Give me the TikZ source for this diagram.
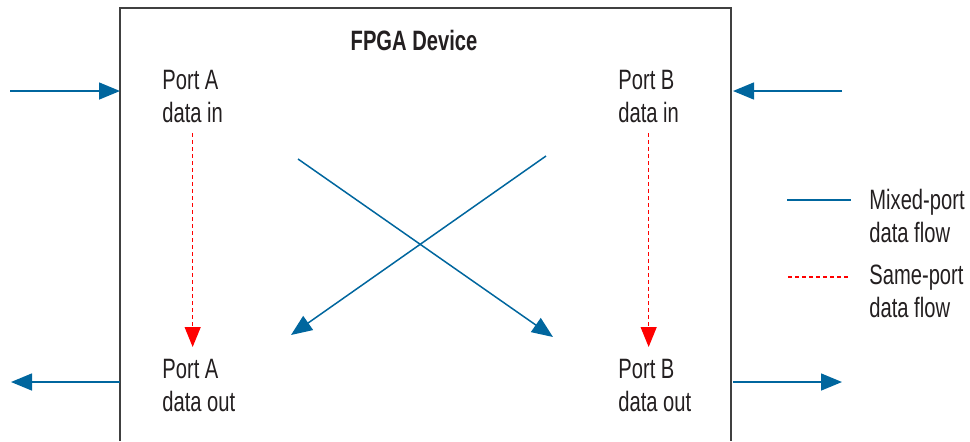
\documentclass[tikz,border=0pt]{standalone}
\usepackage{fontspec}
\setmainfont{Liberation Sans}[FakeStretch=0.72]
\usetikzlibrary{arrows.meta}
\definecolor{flowblue}{HTML}{00669E}
\definecolor{boxgray}{HTML}{404040}
\definecolor{inktext}{HTML}{231F20}

\begin{document}
\begin{tikzpicture}[x=0.5pt,y=-0.5pt]
                \tikzset{port/.style = {align=left, anchor=north west, inner sep=0pt, text=inktext, font=\fontsize{14}{16.5}\selectfont}}
                \tikzset{mixed/.style = {draw=flowblue, line width=0.75pt, -{Triangle[length=10.5pt,width=8.5pt]}}}
                \tikzset{same/.style = {draw=red, line width=0.6pt, dash pattern=on 2pt off 1.5pt, -{Triangle[length=10pt,width=8pt]}}}
                \useasboundingbox (0,0) rectangle (970,441);
                \draw[boxgray, line width=0.7pt] (120,441) -- (120,8) -- (731,8) -- (731,441);
                \node[inner sep=0pt, text=inktext, font=\bfseries\fontsize{14}{16.5}\selectfont] (title) at (414,40) {FPGA Device};

                \node[port] (ain) at (162, 70) {Port A\\data in};
                \node[port] (bin) at (618, 70) {Port B\\data in};
                \node[port] (aout) at (162, 359) {Port A\\data out};
                \node[port] (bout) at (618, 359) {Port B\\data out};

                \coordinate (asrc) at (10, 91);
                \coordinate (adst) at (120, 91);
                \coordinate (bsrc) at (842, 91);
                \coordinate (bdst) at (733, 91);
                \coordinate (aleave) at (120, 382);
                \coordinate (aend) at (11, 382);
                \coordinate (bleave) at (733, 382);
                \coordinate (bend) at (842, 382);

                \draw[mixed] (asrc) -- (adst);
                \draw[mixed] (bsrc) -- (bdst);
                \draw[mixed] (aleave) -- (aend);
                \draw[mixed] (bleave) -- (bend);

                \draw[same, shorten <=5pt, shorten >=6pt] (ain.south) -- (ain.south |- aout.north);
                \draw[same, shorten <=5pt, shorten >=6pt] (bin.south) -- (bin.south |- bout.north);

                \coordinate (xa) at (298, 159);
                \coordinate (xb) at (553, 337);
                \coordinate (xc) at (546, 156);
                \coordinate (xd) at (291, 335);
                \draw[mixed] (xa) -- (xb);
                \draw[mixed] (xc) -- (xd);

                \coordinate (mix0) at (787, 200);
                \coordinate (mix1) at (851, 200);
                \coordinate (same0) at (788, 277);
                \coordinate (same1) at (851, 277);
                \draw[mixed, -] (mix0) -- (mix1);
                \draw[same, -] (same0) -- (same1);
                \node[port] (mixlabel) at (869, 189) {Mixed-port\\data flow};
                \node[port] (samelabel) at (869, 265) {Same-port\\data flow};
\end{tikzpicture}
\end{document}
